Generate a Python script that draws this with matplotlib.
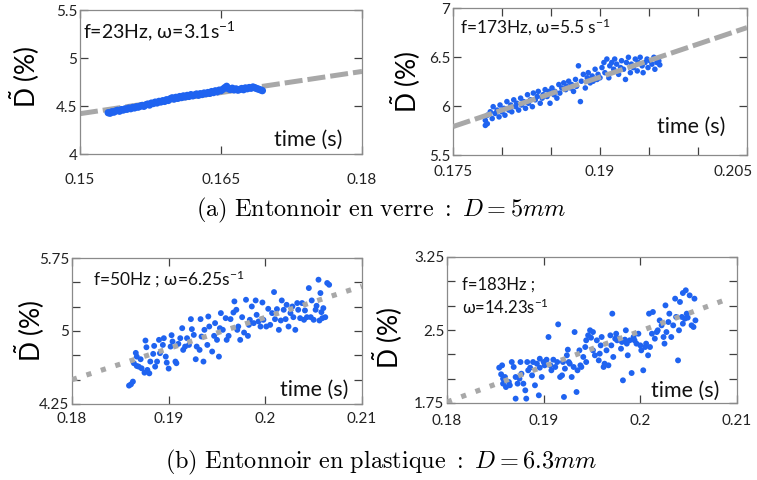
import numpy as np
import matplotlib
matplotlib.use("Agg")
import matplotlib.pyplot as plt
import matplotlib.transforms as mtransforms
from matplotlib.ticker import FixedFormatter, FixedLocator

plt.rcParams['font.family'] = ['Lato', 'DejaVu Sans']
plt.rcParams['mathtext.fontset'] = 'custom'
plt.rcParams['mathtext.rm'] = 'Lato'
plt.rcParams['mathtext.it'] = 'Lato:italic'
plt.rcParams['mathtext.sf'] = 'Lato'

# ---- data : (time [s], D tilde [%]) ----
pts_a1 = [
    (0.1530, 4.430), (0.1532, 4.425), (0.1534, 4.440), (0.1536, 4.436), (0.1538, 4.448),
    (0.1540, 4.455), (0.1542, 4.446), (0.1544, 4.462), (0.1546, 4.458), (0.1548, 4.470),
    (0.1550, 4.466), (0.1552, 4.478), (0.1554, 4.472), (0.1556, 4.485), (0.1558, 4.480),
    (0.1560, 4.492), (0.1562, 4.488), (0.1564, 4.498), (0.1566, 4.505), (0.1568, 4.497),
    (0.1570, 4.512), (0.1572, 4.520), (0.1574, 4.510), (0.1576, 4.530), (0.1578, 4.526),
    (0.1580, 4.540), (0.1582, 4.532), (0.1584, 4.548), (0.1586, 4.542), (0.1588, 4.555),
    (0.1590, 4.548), (0.1592, 4.565), (0.1594, 4.558), (0.1596, 4.575), (0.1598, 4.585),
    (0.1600, 4.572), (0.1602, 4.590), (0.1604, 4.580), (0.1606, 4.598), (0.1608, 4.588),
    (0.1610, 4.605), (0.1612, 4.595), (0.1614, 4.610), (0.1616, 4.600), (0.1618, 4.618),
    (0.1620, 4.606), (0.1622, 4.615), (0.1624, 4.625), (0.1626, 4.612), (0.1628, 4.628),
    (0.1630, 4.620), (0.1632, 4.635), (0.1634, 4.628), (0.1636, 4.640), (0.1638, 4.632),
    (0.1640, 4.650), (0.1642, 4.640), (0.1644, 4.658), (0.1646, 4.648), (0.1648, 4.665),
    (0.1650, 4.660), (0.1652, 4.675), (0.1654, 4.690), (0.1656, 4.705), (0.1658, 4.680),
    (0.1660, 4.672), (0.1662, 4.685), (0.1664, 4.668), (0.1666, 4.678), (0.1668, 4.665),
    (0.1670, 4.672), (0.1672, 4.682), (0.1674, 4.670), (0.1676, 4.688), (0.1678, 4.680),
    (0.1680, 4.692), (0.1682, 4.685), (0.1684, 4.698), (0.1686, 4.690), (0.1688, 4.682),
    (0.1690, 4.675), (0.1692, 4.668), (0.1694, 4.660),
]

pts_a2 = [
    (0.1783, 5.854), (0.1785, 5.906), (0.1783, 5.802), (0.1785, 5.819), (0.1788, 5.941),
    (0.1790, 5.872), (0.1791, 5.993), (0.1793, 5.924), (0.1795, 5.958), (0.1797, 5.889),
    (0.1798, 6.010), (0.1800, 5.941), (0.1802, 5.976), (0.1803, 5.906), (0.1805, 6.045),
    (0.1807, 5.958), (0.1809, 6.010), (0.1810, 5.941), (0.1812, 6.063), (0.1814, 5.993),
    (0.1815, 6.028), (0.1817, 5.958), (0.1819, 6.080), (0.1820, 6.010), (0.1822, 6.045),
    (0.1824, 5.976), (0.1826, 6.115), (0.1827, 6.028), (0.1829, 6.063), (0.1831, 5.993),
    (0.1832, 6.132), (0.1834, 6.063), (0.1836, 6.097), (0.1837, 6.149), (0.1839, 6.028),
    (0.1841, 6.080), (0.1842, 6.115), (0.1844, 6.167), (0.1846, 6.097), (0.1848, 6.149),
    (0.1849, 6.028), (0.1851, 6.184), (0.1853, 6.115), (0.1854, 6.149), (0.1856, 6.080),
    (0.1858, 6.219), (0.1859, 6.132), (0.1861, 6.184), (0.1863, 6.236), (0.1865, 6.167),
    (0.1866, 6.201), (0.1868, 6.253), (0.1870, 6.184), (0.1871, 6.219), (0.1873, 6.149),
    (0.1875, 6.271), (0.1876, 6.201), (0.1878, 6.410), (0.1880, 6.045), (0.1881, 6.253),
    (0.1883, 6.323), (0.1885, 6.184), (0.1887, 6.288), (0.1888, 6.340), (0.1890, 6.236),
    (0.1892, 6.306), (0.1893, 6.253), (0.1895, 6.375), (0.1897, 6.271), (0.1898, 6.323),
    (0.1900, 6.288), (0.1902, 6.392), (0.1904, 6.444), (0.1905, 6.340), (0.1907, 6.479),
    (0.1909, 6.288), (0.1910, 6.410), (0.1912, 6.444), (0.1914, 6.375), (0.1915, 6.479),
    (0.1917, 6.427), (0.1919, 6.323), (0.1921, 6.392), (0.1922, 6.462), (0.1924, 6.375),
    (0.1926, 6.271), (0.1927, 6.444), (0.1929, 6.497), (0.1931, 6.340), (0.1932, 6.427),
    (0.1934, 6.392), (0.1936, 6.479), (0.1938, 6.358), (0.1939, 6.444), (0.1941, 6.497),
    (0.1943, 6.410), (0.1944, 6.340), (0.1946, 6.444), (0.1948, 6.479), (0.1949, 6.392),
    (0.1951, 6.462), (0.1953, 6.427), (0.1955, 6.497), (0.1956, 6.375), (0.1958, 6.444),
    (0.1960, 6.460), (0.1961, 6.420),
]

pts_b1 = [
    (0.1867, 4.641), (0.1863, 4.480), (0.1861, 4.452), (0.1859, 4.439), (0.1864, 4.669),
    (0.1867, 4.737), (0.1866, 4.775), (0.1871, 4.710), (0.1869, 4.634), (0.1872, 4.617),
    (0.1875, 4.572), (0.1878, 4.600), (0.1877, 4.833), (0.1876, 4.902), (0.1881, 4.686),
    (0.1880, 4.565), (0.1884, 4.765), (0.1886, 4.634), (0.1888, 4.686), (0.1885, 4.847),
    (0.1890, 4.909), (0.1891, 4.772), (0.1895, 4.926), (0.1894, 4.857), (0.1897, 4.737),
    (0.1898, 4.675), (0.1900, 4.614), (0.1902, 4.840), (0.1903, 4.957), (0.1904, 4.892),
    (0.1907, 4.686), (0.1908, 4.669), (0.1910, 4.868), (0.1912, 4.926), (0.1914, 5.029),
    (0.1915, 4.806), (0.1917, 4.840), (0.1919, 4.926), (0.1921, 4.857), (0.1923, 5.122),
    (0.1924, 5.019), (0.1926, 4.960), (0.1928, 4.710), (0.1929, 4.840), (0.1932, 4.806),
    (0.1933, 5.122), (0.1934, 4.943), (0.1936, 4.686), (0.1937, 5.012), (0.1940, 4.857),
    (0.1941, 5.149), (0.1942, 5.046), (0.1945, 4.789), (0.1947, 4.950), (0.1948, 5.081),
    (0.1950, 4.909), (0.1952, 4.737), (0.1953, 5.029), (0.1954, 5.184), (0.1956, 5.012),
    (0.1959, 5.132), (0.1960, 4.909), (0.1962, 4.950), (0.1964, 5.122), (0.1967, 5.190),
    (0.1968, 5.304), (0.1970, 5.218), (0.1971, 5.012), (0.1972, 5.046), (0.1974, 4.909),
    (0.1976, 5.142), (0.1978, 4.984), (0.1980, 5.321), (0.1982, 4.950), (0.1983, 5.063),
    (0.1984, 5.115), (0.1986, 5.252), (0.1988, 5.081), (0.1990, 5.314), (0.1991, 5.166),
    (0.1993, 5.098), (0.1995, 5.046), (0.1997, 5.293), (0.1998, 5.115), (0.2001, 5.046),
    (0.2003, 5.228), (0.2005, 5.063), (0.2007, 5.184), (0.2009, 5.400), (0.2010, 5.122),
    (0.2012, 5.225), (0.2014, 5.012), (0.2016, 5.108), (0.2017, 5.314), (0.2019, 5.218),
    (0.2021, 5.122), (0.2022, 5.269), (0.2024, 5.046), (0.2026, 5.184), (0.2028, 5.252),
    (0.2029, 5.142), (0.2031, 5.012), (0.2033, 5.287), (0.2034, 5.218), (0.2036, 5.132),
    (0.2038, 5.287), (0.2040, 5.115), (0.2041, 5.211), (0.2043, 5.142), (0.2045, 5.441),
    (0.2047, 5.142), (0.2048, 5.314), (0.2050, 5.115), (0.2052, 5.218), (0.2053, 5.259),
    (0.2055, 5.527), (0.2056, 5.108), (0.2057, 5.390), (0.2058, 5.194), (0.2059, 5.132),
    (0.2060, 5.235), (0.2062, 5.142), (0.2064, 5.493), (0.2066, 5.475),
]

pts_b2 = [
    (0.1854, 2.113), (0.1857, 2.137), (0.1856, 2.045), (0.1858, 2.000), (0.1860, 2.017),
    (0.1858, 1.949), (0.1861, 1.914), (0.1864, 1.966), (0.1865, 1.932), (0.1867, 2.171),
    (0.1869, 2.120), (0.1871, 2.017), (0.1871, 1.795), (0.1873, 1.949), (0.1875, 2.000),
    (0.1876, 2.171), (0.1877, 2.051), (0.1879, 1.949), (0.1881, 1.880), (0.1882, 1.795),
    (0.1883, 2.171), (0.1884, 2.086), (0.1886, 2.113), (0.1888, 2.034), (0.1889, 2.171),
    (0.1891, 1.932), (0.1893, 2.154), (0.1895, 1.829), (0.1896, 2.205), (0.1896, 2.113),
    (0.1898, 2.017), (0.1900, 2.171), (0.1901, 2.137), (0.1903, 2.195), (0.1905, 2.428),
    (0.1907, 2.137), (0.1908, 2.086), (0.1910, 2.195), (0.1912, 2.120), (0.1914, 2.171),
    (0.1915, 2.558), (0.1917, 2.017), (0.1919, 2.034), (0.1920, 2.171), (0.1921, 1.812),
    (0.1922, 2.103), (0.1924, 2.240), (0.1925, 2.298), (0.1926, 2.171), (0.1927, 2.154),
    (0.1929, 2.017), (0.1931, 2.120), (0.1932, 2.479), (0.1934, 1.863), (0.1935, 2.086),
    (0.1937, 2.291), (0.1938, 2.137), (0.1939, 2.120), (0.1941, 2.223), (0.1943, 2.325),
    (0.1944, 2.394), (0.1944, 2.171), (0.1946, 2.445), (0.1948, 2.497), (0.1949, 2.421),
    (0.1951, 2.479), (0.1951, 2.291), (0.1953, 2.240), (0.1955, 2.394), (0.1957, 2.188),
    (0.1958, 2.257), (0.1959, 2.342), (0.1960, 2.428), (0.1962, 2.120), (0.1963, 2.154),
    (0.1965, 2.291), (0.1967, 2.137), (0.1969, 2.445), (0.1970, 2.342), (0.1971, 2.668),
    (0.1972, 2.223), (0.1974, 2.411), (0.1975, 2.462), (0.1976, 2.394), (0.1978, 2.411),
    (0.1980, 2.308), (0.1981, 2.377), (0.1982, 1.983), (0.1984, 2.401), (0.1985, 2.497),
    (0.1986, 2.360), (0.1987, 2.240), (0.1989, 2.394), (0.1991, 2.058), (0.1993, 2.428),
    (0.1994, 2.394), (0.1996, 2.360), (0.1998, 2.462), (0.2000, 2.342), (0.2001, 2.291),
    (0.2003, 2.086), (0.2005, 2.325), (0.2006, 2.360), (0.2008, 2.240), (0.2009, 2.668),
    (0.2010, 2.325), (0.2012, 2.462), (0.2013, 2.685), (0.2015, 2.411), (0.2017, 2.479),
    (0.2018, 2.497), (0.2020, 2.599), (0.2022, 2.548), (0.2024, 2.428), (0.2025, 2.360),
    (0.2026, 2.753), (0.2027, 2.479), (0.2029, 2.582), (0.2030, 2.668), (0.2032, 2.428),
    (0.2034, 2.548), (0.2036, 2.822), (0.2037, 2.634), (0.2039, 2.188), (0.2040, 2.497),
    (0.2041, 2.788), (0.2043, 2.634), (0.2044, 2.880), (0.2044, 2.565), (0.2046, 2.616),
    (0.2047, 2.908), (0.2048, 2.668), (0.2049, 2.627), (0.2051, 2.856), (0.2053, 2.548),
    (0.2055, 2.531), (0.2056, 2.822), (0.2057, 2.599),
]

# linear trends: (t0, D0), (t1, D1)
trend_a1 = [(0.150, 4.42), (0.180, 4.86)]
trend_a2 = [(0.175, 5.79), (0.205, 6.80)]
trend_b1 = [(0.180, 4.50), (0.210, 5.46)]
trend_b2 = [(0.180, 1.76), (0.2088, 2.81)]

labels = [
    "f=23Hz, ω=3.1s$^{-1}$",
    "f=173Hz, ω=5.5 s$^{-1}$",
    "f=50Hz ; ω=6.25s$^{-1}$",
    "f=183Hz ;\nω=14.23s$^{-1}$",
]

captions = [
    r"$\mathrm{(a)\ Entonnoir\ en\ verre\ :\ }D = 5mm$",
    r"$\mathrm{(b)\ Entonnoir\ en\ plastique\ :\ }D = 6.3mm$",
]

BLUE = '#1f63f0'
GREY = '#a8a8a8'

fig = plt.figure(figsize=(7.57, 4.80), dpi=100)

W, H = 757.0, 480.0
def box(l, t, r, b):
    return [l / W, 1 - b / H, (r - l) / W, (b - t) / H]

axes = [
    fig.add_axes(box(80, 10, 362, 154)),
    fig.add_axes(box(453, 8, 747, 155)),
    fig.add_axes(box(72, 258, 362, 404)),
    fig.add_axes(box(447, 257, 737, 403)),
]

xlims = [(0.15, 0.18), (0.175, 0.205), (0.18, 0.21), (0.18, 0.21)]
ylims = [(4, 5.5), (5.5, 7), (4.25, 5.75), (1.75, 3.25)]
xticks = [[0.15, 0.165, 0.18], [0.175, 0.18, 0.185, 0.19, 0.195, 0.2, 0.205],
          [0.18, 0.19, 0.2, 0.21], [0.18, 0.19, 0.2, 0.21]]
xticklabels = [["0.15", "0.165", "0.18"], ["0.175", "", "", "0.19", "", "", "0.205"],
               ["0.18", "0.19", "0.2", "0.21"], ["0.18", "0.19", "0.2", "0.21"]]
yticks = [[4, 4.5, 5, 5.5], [5.5, 6, 6.5, 7],
          [4.25, 4.5, 4.75, 5, 5.25, 5.5, 5.75], [1.75, 2, 2.25, 2.5, 2.75, 3, 3.25]]
yticklabels = [["4", "4.5", "5", "5.5"], ["5.5", "6", "6.5", "7"],
               ["4.25", "", "", "5", "", "", "5.75"], ["1.75", "", "", "2.5", "", "", "3.25"]]

all_pts = [pts_a1, pts_a2, pts_b1, pts_b2]
trends = [trend_a1, trend_a2, trend_b1, trend_b2]
ylab_pos = [(-0.135, 0.54), (-0.102, 0.50), (-0.086, 0.50), (-0.145, 0.45)]
time_pos = [(0.93, 0.10), (0.925, 0.19), (0.952, 0.10), (0.94, 0.08)]
txt_pos = [(0.01, 0.85), (0.024, 0.865), (0.072, 0.85), (0.05, 0.73)]
txt_size = [14, 12.5, 12.5, 12]
msize = [28, 16, 18, 18]
xpad = [14, 7, 6, 8]

for i, ax in enumerate(axes):
    p = np.array(all_pts[i])
    tr = np.array(trends[i])
    if i < 2:
        ax.plot(tr[:, 0], tr[:, 1], color=GREY, lw=3.6, dashes=(3.6, 1.0),
                dash_capstyle='butt', zorder=1 if i == 0 else 3)
    else:
        ax.plot(tr[:, 0], tr[:, 1], color=GREY, lw=3.7, dashes=(1.0, 1.95),
                dash_capstyle='butt', zorder=3)
    ax.scatter(p[:, 0], p[:, 1], s=msize[i], color=BLUE, edgecolors='none', zorder=2)

    ax.set_xlim(*xlims[i])
    ax.set_ylim(*ylims[i])
    ax.xaxis.set_major_locator(FixedLocator(xticks[i]))
    ax.xaxis.set_major_formatter(FixedFormatter(xticklabels[i]))
    ax.yaxis.set_major_locator(FixedLocator(yticks[i]))
    ax.yaxis.set_major_formatter(FixedFormatter(yticklabels[i]))
    ax.tick_params(direction='in', length=6, width=0.9, color='#404040',
                   top=True, right=True, labelsize=11, labelcolor='#222222')
    ax.tick_params(axis='x', pad=xpad[i])
    ax.tick_params(axis='y', pad=2)
    for s in ax.spines.values():
        s.set_color('#8a8a8a')
        s.set_linewidth(0.9)

    ax.set_ylabel(r"$\tilde{\mathrm{D}}$ (%)", fontsize=19)
    ax.yaxis.set_label_coords(*ylab_pos[i])
    ax.text(time_pos[i][0], time_pos[i][1], "time (s)", transform=ax.transAxes,
            ha='right', va='center', fontsize=15.5, color='#111111', zorder=4)
    ax.text(txt_pos[i][0], txt_pos[i][1], labels[i], transform=ax.transAxes,
            ha='left', va='center', fontsize=txt_size[i], color='#111111',
            linespacing=1.3, zorder=4)

# last tick label of the upper right panel is pulled inside the figure
fig.canvas.draw()
lab = axes[1].get_xticklabels()[-1]
lab.set_transform(lab.get_transform() +
                  mtransforms.ScaledTranslation(-14 / 100, 0, fig.dpi_scale_trans))

fig.text(381 / W, 1 - 210 / H, captions[0], ha='center', va='center',
         fontsize=17.5, math_fontfamily='cm')
fig.text(381 / W, 1 - 462 / H, captions[1], ha='center', va='center',
         fontsize=17.5, math_fontfamily='cm')

fig.savefig("out.png", dpi=100)
